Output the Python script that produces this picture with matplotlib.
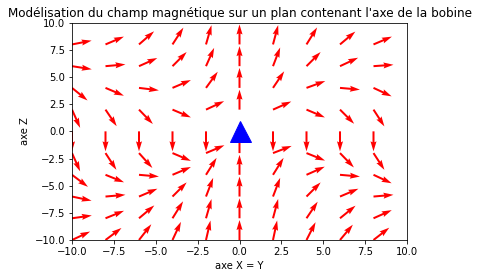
import numpy as np
import matplotlib
matplotlib.use("Agg")
import matplotlib.pyplot as plt

# Grid positions (data coordinates)
x_values = [-10, -8, -6, -4, -2, 0, 2, 4, 6, 8]
z_values = [8, 6, 4, 2, 0, -2, -4, -6, -8, -10]

# Arrow directions (degrees, screen space), rows = z_values, cols = x_values
nan = float("nan")
angles_deg = [
    [11, 23, 41, 57, 74, 90, 75, 58, 40, 23],
    [-9, 5, 24, 45, 66, 90, 69, 45, 25, 4],
    [-39, -23, -7, 23, 54, 90, 56, 20, -5, -25],
    [-66, -56, -46, -23, 25, 90, 24, -23, -45, -57],
    [-90, -90, -90, -90, -90, nan, -90, -90, -90, -90],
    [-66, -57, -48, -23, 23, 90, 21, -22, -46, -57],
    [-37, -22, -5, 23, 58, 90, 58, 24, -5, -25],
    [-12, 5, 23, 45, 69, 90, 69, 45, 23, 5],
    [8, 22, 40, 58, 74, 90, 75, 56, 39, 24],
    [25, 37, 52, 65, 77, 90, 78, 63, 50, 38],
]

coil_x = [0]
coil_z = [0]

title = "Modélisation du champ magnétique sur un plan contenant l'axe de la bobine"
xlabel = "axe X = Y"
ylabel = "axe Z"

W, H = 478, 278
DPI = 72
fig = plt.figure(figsize=(W / DPI, H / DPI), dpi=DPI)
ax = fig.add_axes([72 / W, (H - 240) / H, (407 - 72) / W, (240 - 22.7) / H])

X, Z = np.meshgrid(np.array(x_values, float), np.array(z_values, float))
A = np.deg2rad(np.array(angles_deg, float))
U = np.cos(A)
V = np.sin(A)

# arrows ~20 px long in screen space
ax.quiver(X, Z, U, V, color="red", angles="uv", scale_units="inches",
          scale=DPI / 20.0)
ax.plot(coil_x, coil_z, "^", color="blue", markersize=21)

ax.set_xlim(-10, 10)
ax.set_ylim(-10, 10)
ax.set_title(title, fontsize=12)
ax.set_xlabel(xlabel, fontsize=10)
ax.set_ylabel(ylabel, fontsize=10)
ax.tick_params(labelsize=10)

fig.savefig("out.png", dpi=DPI)
